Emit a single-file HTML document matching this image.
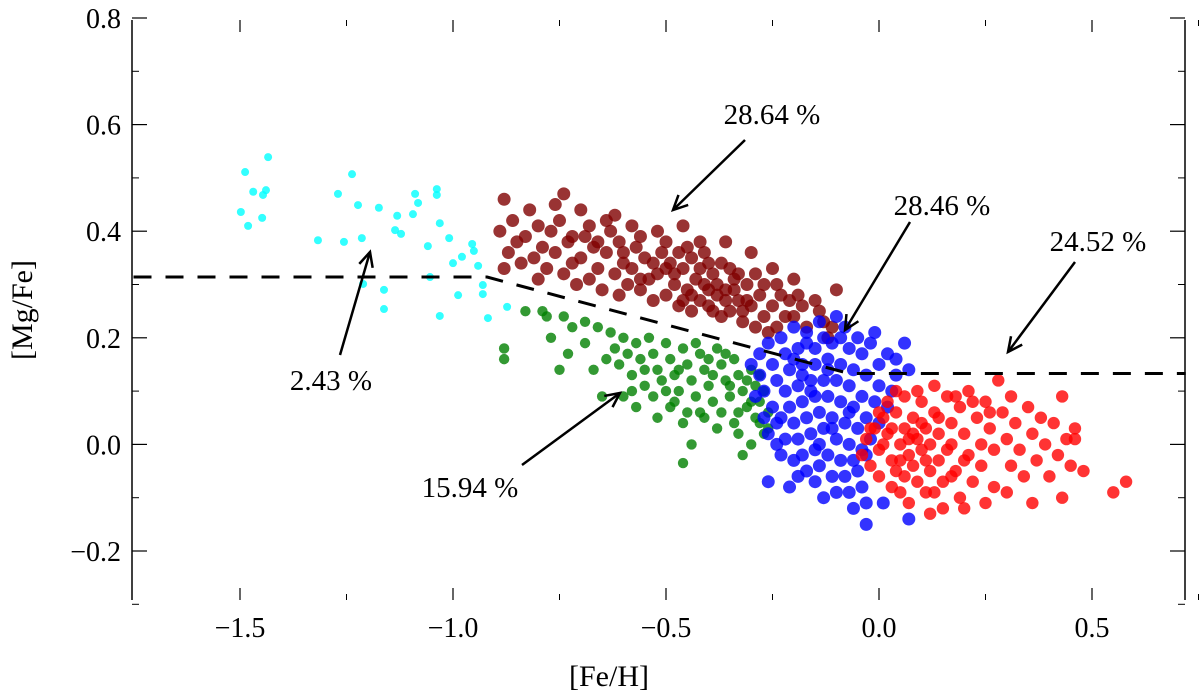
<!DOCTYPE html>
<html><head><meta charset="utf-8"><style>
html,body{margin:0;padding:0;background:#fff;}
svg text{font-family:"Liberation Serif",serif;fill:#000;}
</style></head><body>
<svg id="chart" width="1200" height="693" viewBox="0 0 1200 693" xmlns="http://www.w3.org/2000/svg">
<g id="axes"></g>
<g id="points"></g>
<g id="annot"></g>
<text x="609" y="686" font-size="30" text-anchor="middle">[Fe/H]</text>
<text x="0" y="0" font-size="30" text-anchor="middle" transform="translate(32,310) rotate(-90)">[Mg/Fe]</text>
</svg>
<script>
const xTicks=[-1.5,-1.0,-0.5,0.0,0.5];
const xTickLabels=["\u22121.5","\u22121.0","\u22120.5","0.0","0.5"];
const yTicks=[0.8,0.6,0.4,0.2,0.0,-0.2];
const yTickLabels=["0.8","0.6","0.4","0.2","0.0","\u22120.2"];
const dashFe=[-1.75,-0.92,-0.07,0.72];
const dashMg=[0.314,0.314,0.133,0.133];
const cyanFe=[-1.488,-1.434,-1.469,-1.439,-1.446,-1.498,-1.448,-1.481,-1.237,-1.270,-1.223,-1.174,-1.317,-1.256,-1.214,-1.131,-1.136,-1.122,-1.089,-1.082,-1.094,-1.038,-1.038,-1.031,-1.009,-1.059,-0.955,-0.951,-0.979,-1.000,-0.941,-1.054,-1.211,-1.162,-1.162,-1.031,-0.988,-0.930,-0.930,-0.918,-0.873];
const cyanMg=[0.511,0.539,0.474,0.477,0.468,0.436,0.425,0.410,0.507,0.470,0.449,0.444,0.383,0.380,0.387,0.429,0.402,0.395,0.470,0.453,0.432,0.479,0.468,0.415,0.387,0.372,0.376,0.363,0.352,0.340,0.335,0.314,0.301,0.290,0.254,0.241,0.280,0.299,0.282,0.237,0.258];
const dredFe=[-0.88,-0.86,-0.89,-0.85,-0.87,-0.84,-0.88,-0.82,-0.80,-0.83,-0.79,-0.81,-0.78,-0.80,-0.76,-0.74,-0.75,-0.77,-0.73,-0.76,-0.72,-0.74,-0.71,-0.70,-0.68,-0.69,-0.67,-0.70,-0.66,-0.68,-0.65,-0.64,-0.62,-0.63,-0.61,-0.64,-0.60,-0.62,-0.59,-0.61,-0.58,-0.56,-0.57,-0.55,-0.58,-0.54,-0.56,-0.53,-0.52,-0.50,-0.51,-0.49,-0.52,-0.48,-0.50,-0.47,-0.46,-0.45,-0.44,-0.46,-0.43,-0.45,-0.42,-0.44,-0.41,-0.40,-0.39,-0.41,-0.38,-0.40,-0.37,-0.36,-0.35,-0.34,-0.36,-0.33,-0.35,-0.32,-0.30,-0.29,-0.31,-0.28,-0.30,-0.27,-0.29,-0.25,-0.24,-0.23,-0.25,-0.22,-0.24,-0.20,-0.19,-0.18,-0.20,-0.17,-0.15,-0.14,-0.13,-0.10,-0.11,-0.12,-0.48,-0.42,-0.38,-0.44,-0.40,-0.36,-0.46,-0.39,-0.34,-0.32,-0.50,-0.53,-0.56,-0.60,-0.66,-0.72,-0.42,-0.47,-0.37,-0.31,-0.27,-0.26,-0.21,-0.33];
const dredMg=[0.46,0.42,0.40,0.38,0.36,0.34,0.33,0.44,0.41,0.39,0.37,0.35,0.33,0.31,0.45,0.47,0.42,0.40,0.38,0.36,0.34,0.32,0.30,0.44,0.41,0.39,0.37,0.35,0.33,0.31,0.29,0.42,0.43,0.40,0.38,0.36,0.34,0.32,0.30,0.28,0.41,0.39,0.37,0.35,0.33,0.31,0.29,0.27,0.40,0.38,0.36,0.34,0.32,0.30,0.28,0.26,0.41,0.37,0.35,0.33,0.31,0.29,0.27,0.25,0.36,0.34,0.32,0.30,0.28,0.26,0.24,0.38,0.33,0.31,0.29,0.27,0.25,0.23,0.36,0.32,0.30,0.28,0.26,0.24,0.22,0.33,0.30,0.28,0.26,0.24,0.22,0.31,0.28,0.26,0.24,0.22,0.27,0.25,0.23,0.29,0.22,0.20,0.32,0.33,0.30,0.28,0.29,0.27,0.27,0.25,0.29,0.25,0.33,0.34,0.31,0.36,0.38,0.39,0.38,0.36,0.34,0.27,0.30,0.21,0.27,0.32];
const greenFe=[-0.88,-0.88,-0.83,-0.79,-0.78,-0.74,-0.77,-0.75,-0.73,-0.72,-0.69,-0.69,-0.67,-0.64,-0.65,-0.60,-0.66,-0.63,-0.62,-0.61,-0.60,-0.59,-0.58,-0.57,-0.56,-0.55,-0.57,-0.54,-0.53,-0.52,-0.51,-0.53,-0.52,-0.50,-0.49,-0.48,-0.47,-0.49,-0.46,-0.46,-0.45,-0.44,-0.43,-0.45,-0.44,-0.46,-0.42,-0.41,-0.40,-0.39,-0.41,-0.38,-0.38,-0.37,-0.36,-0.35,-0.37,-0.34,-0.34,-0.33,-0.32,-0.31,-0.33,-0.32,-0.30,-0.29,-0.28,-0.29,-0.27,-0.30,-0.28,-0.27,-0.26,-0.26,-0.43,-0.40,-0.36,-0.47,-0.50,-0.55,-0.58,-0.39,-0.35,-0.31,-0.30,-0.33,-0.42,-0.48,-0.28];
const greenMg=[0.18,0.16,0.25,0.25,0.24,0.24,0.20,0.14,0.17,0.22,0.19,0.23,0.14,0.16,0.09,0.09,0.22,0.21,0.18,0.15,0.20,0.17,0.13,0.19,0.16,0.11,0.07,0.20,0.17,0.14,0.12,0.09,0.05,0.19,0.16,0.13,0.10,0.07,0.04,0.18,0.15,0.12,0.09,0.06,0.00,-0.035,0.17,0.14,0.11,0.08,0.05,0.03,0.18,0.15,0.12,0.09,0.06,0.04,0.16,0.13,0.10,0.07,0.02,-0.02,0.14,0.11,0.08,0.05,0.02,0.00,0.13,0.10,0.06,0.03,0.19,0.16,0.17,0.14,0.10,0.14,0.10,0.13,0.11,0.12,0.08,0.06,0.06,0.08,0.04];
const blueFe=[-0.30,-0.28,-0.26,-0.23,-0.20,-0.17,-0.14,-0.10,-0.08,-0.05,-0.02,0.02,0.06,0.07,0.04,0.00,-0.04,-0.07,-0.11,-0.15,-0.19,-0.22,-0.25,-0.28,-0.27,-0.25,-0.24,-0.22,-0.24,-0.21,-0.18,-0.15,-0.12,-0.09,-0.06,-0.03,0.00,0.03,-0.22,-0.19,-0.16,-0.13,-0.10,-0.07,-0.04,-0.01,0.02,-0.21,-0.18,-0.15,-0.12,-0.09,-0.06,-0.03,0.00,-0.20,-0.17,-0.14,-0.11,-0.08,-0.05,-0.02,-0.19,-0.16,-0.13,-0.10,-0.07,-0.04,-0.18,-0.15,-0.12,-0.09,-0.06,-0.03,-0.20,-0.17,-0.14,-0.11,-0.08,-0.05,-0.26,-0.21,-0.15,-0.10,-0.07,-0.04,-0.06,-0.03,0.01,-0.03,0.07,-0.13,-0.19,-0.23,-0.24,-0.26,-0.23,-0.27,-0.29,-0.20,-0.17,-0.13,-0.09,-0.12,-0.16,-0.11,-0.07,-0.14,-0.18,0.04,-0.01];
const blueMg=[0.15,0.17,0.19,0.20,0.22,0.21,0.23,0.24,0.22,0.20,0.19,0.17,0.19,0.14,0.13,0.15,0.17,0.18,0.19,0.18,0.18,0.17,0.15,0.13,0.10,0.07,0.04,0.01,0.12,0.14,0.15,0.15,0.16,0.15,0.14,0.13,0.11,0.10,0.10,0.11,0.12,0.12,0.12,0.11,0.09,0.08,0.07,0.07,0.08,0.09,0.09,0.08,0.07,0.05,0.04,0.04,0.05,0.06,0.05,0.04,0.03,0.01,0.01,0.02,0.03,0.01,0.00,-0.01,-0.02,-0.01,-0.02,-0.03,-0.03,-0.02,-0.03,-0.05,-0.04,-0.06,-0.06,-0.05,-0.07,-0.08,-0.07,-0.09,-0.09,-0.08,-0.12,-0.11,-0.11,-0.15,-0.14,-0.10,-0.06,-0.02,0.00,0.02,0.05,0.05,0.09,0.16,0.19,0.20,0.20,0.14,0.10,0.03,0.06,0.00,0.13,0.16,0.21];
const redFe=[-0.04,-0.03,-0.02,-0.01,0.00,0.01,0.00,0.02,0.03,0.02,0.04,0.05,0.04,0.05,0.06,0.07,0.06,0.08,0.09,0.08,0.09,0.10,0.11,0.10,0.12,0.11,0.13,0.13,0.14,0.14,0.15,0.15,0.16,0.17,0.17,0.18,0.19,0.19,0.20,0.21,0.21,0.22,0.23,0.24,0.24,0.25,0.26,0.27,0.27,0.28,0.29,0.30,0.31,0.31,0.32,0.33,0.34,0.35,0.36,0.36,0.37,0.38,0.39,0.40,0.41,0.42,0.43,0.43,0.44,0.45,0.46,0.46,0.48,0.55,0.58,0.01,0.03,0.05,0.07,0.08,0.10,0.12,0.06,0.11,0.14,0.16,0.09,0.03,0.07,0.12,0.20,0.25,0.30,0.18,0.22,0.26,0.13,0.17,0.00,-0.02,0.04,0.20];
const redMg=[-0.02,0.01,-0.04,0.03,-0.01,0.05,-0.06,0.02,-0.03,0.08,0.06,0.00,-0.05,-0.09,0.03,-0.02,0.09,0.05,0.01,-0.04,-0.07,0.08,0.03,-0.01,-0.05,-0.09,0.11,0.06,0.02,-0.03,-0.07,-0.12,0.09,0.04,0.00,-0.05,-0.10,0.07,0.02,-0.02,0.10,-0.07,0.05,0.00,-0.04,0.08,0.03,-0.01,-0.08,0.12,0.06,0.01,-0.04,0.09,0.04,-0.01,-0.06,0.07,0.02,-0.11,-0.03,0.05,0.00,-0.06,0.04,-0.02,0.09,-0.10,0.01,-0.04,0.01,0.03,-0.05,-0.09,-0.07,0.00,0.03,-0.03,0.01,0.02,0.04,0.00,-0.06,-0.03,0.05,-0.01,0.10,-0.08,-0.11,-0.13,-0.12,-0.11,-0.09,0.09,0.08,0.06,-0.09,-0.06,0.06,0.03,0.10,-0.03];
const NS='http://www.w3.org/2000/svg';
const X=v=>879+v*426;
const Y=v=>18+(0.8-v)*533;
function mk(tag,attrs,parent){const e=document.createElementNS(NS,tag);for(const k in attrs)e.setAttribute(k,attrs[k]);parent.appendChild(e);return e;}
const axes=document.getElementById('axes');
let e;
e=mk('line',{x1:132,y1:20,x2:132,y2:600,stroke:'#000','stroke-width':1.5},axes);


e=mk('line',{x1:1185,y1:20,x2:1185,y2:600,stroke:'#000','stroke-width':1.5},axes);


xTicks.forEach((v,i)=>{
  e=mk('line',{x1:X(v),y1:600,x2:X(v),y2:588,stroke:'#000','stroke-width':1.2},axes);
  
  
  e=mk('line',{x1:X(v),y1:20,x2:X(v),y2:32,stroke:'#000','stroke-width':1.2},axes);
  
  
  e=mk('line',{x1:X(v+0.25),y1:600,x2:X(v+0.25),y2:594,stroke:'#000','stroke-width':1},axes);
  
  
  e=mk('line',{x1:X(v+0.25),y1:20,x2:X(v+0.25),y2:26,stroke:'#000','stroke-width':1},axes);
  
  
  e=mk('text',{x:X(v),y:637,'font-size':28,'text-anchor':'middle'},axes);
  e.textContent=xTickLabels[i];
  
  
});
yTicks.forEach((v,i)=>{
  e=mk('line',{x1:132,y1:Y(v),x2:147,y2:Y(v),stroke:'#000','stroke-width':1.2},axes);
  
  
  e=mk('line',{x1:1185,y1:Y(v),x2:1170,y2:Y(v),stroke:'#000','stroke-width':1.2},axes);
  
  
  if(v>-0.3){
  e=mk('line',{x1:132,y1:Y(v-0.1),x2:139,y2:Y(v-0.1),stroke:'#000','stroke-width':1},axes);
  
  
  e=mk('line',{x1:1185,y1:Y(v-0.1),x2:1178,y2:Y(v-0.1),stroke:'#000','stroke-width':1},axes);
  
  }
  e=mk('text',{x:121,y:Y(v)+10,'font-size':28,'text-anchor':'end'},axes);
  e.textContent=yTickLabels[i];
  
  
});
const pts=document.getElementById('points');
function series(fe,mg,color,name,r){
  const g=mk('g',{fill:color,'fill-opacity':0.8},pts);
  
  
  fe.forEach((v,i)=>{
    const c=mk('circle',{cx:X(v),cy:Y(mg[i]),r:r},g);
    
    
  });
}
series(cyanFe,cyanMg,'#00ffff','cyan-group',4);
series(dredFe,dredMg,'#800000','darkred-group',6.5);
series(greenFe,greenMg,'#008000','green-group',5.2);
series(blueFe,blueMg,'#0000ff','blue-group',6.5);
series(redFe,redMg,'#ff0000','red-group',6.2);
const an=document.getElementById('annot');
let d='M'+X(dashFe[0])+','+Y(dashMg[0]);
for(let i=1;i<dashFe.length;i++)d+=' L'+X(dashFe[i])+','+Y(dashMg[i]);
e=mk('path',{d:d,fill:'none',stroke:'#000','stroke-width':3,'stroke-dasharray':'18,14'},an);


function arrow(x1,y1,x2,y2,label,tx,ty,name){
  const a=Math.atan2(y2-y1,x2-x1),h=16;
  e=mk('line',{x1:x1,y1:y1,x2:x2,y2:y2,stroke:'#000','stroke-width':2.5},an);
  
  
  e=mk('path',{d:'M'+(x2-h*Math.cos(a-0.45))+','+(y2-h*Math.sin(a-0.45))+' L'+x2+','+y2+' L'+(x2-h*Math.cos(a+0.45))+','+(y2-h*Math.sin(a+0.45)),fill:'none',stroke:'#000','stroke-width':2.5},an);
  
  
  e=mk('text',{x:tx,y:ty,'font-size':29,'text-anchor':'middle'},an);
  e.textContent=label;
  
  
}
arrow(745,140,673,210,'28.64 %',772,124,'darkred-percent');
arrow(910,222,845,330,'28.46 %',942,215,'blue-percent');
arrow(1075,262,1008,352,'24.52 %',1098,251,'red-percent');
arrow(340,355,370,252,'2.43 %',331,390,'cyan-percent');
arrow(522,465,620,393,'15.94 %',470,497,'green-percent');
</script>
</body></html>
